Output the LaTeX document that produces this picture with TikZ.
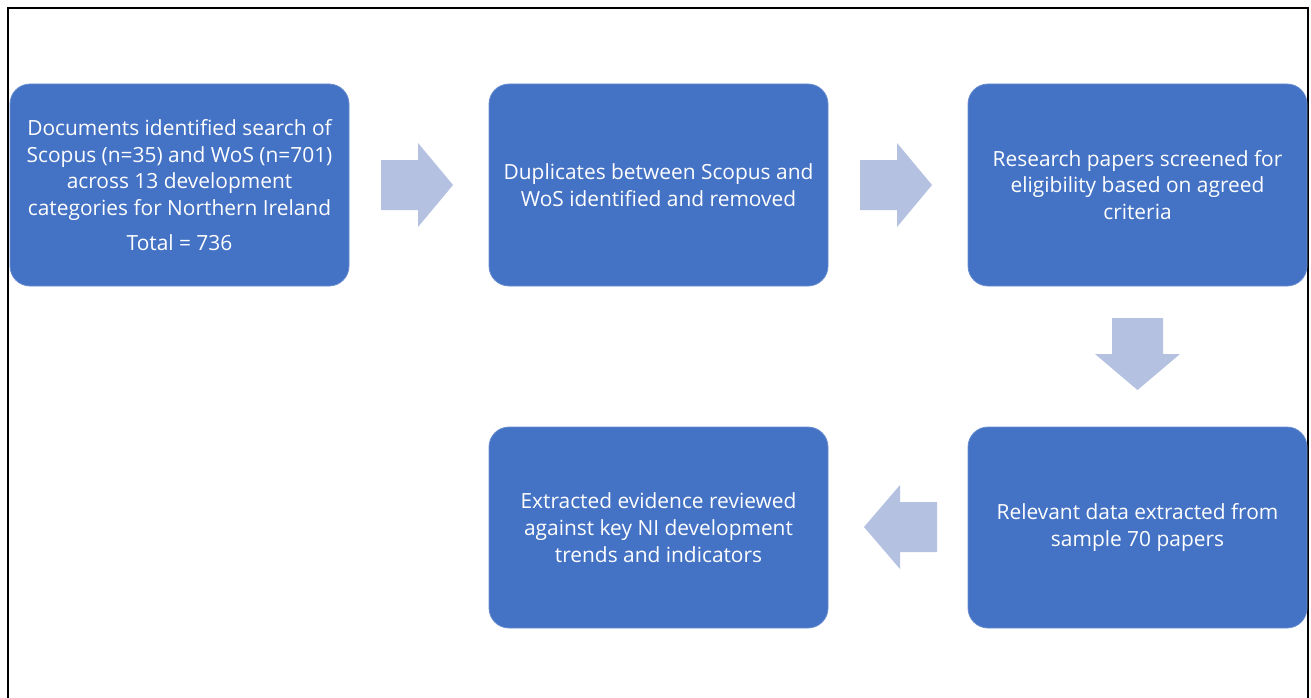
\documentclass[tikz,border=0pt]{standalone}
\usepackage{fontspec}
\setmainfont{Open Sans}
\definecolor{boxblue}{RGB}{68,114,196}
\definecolor{arrblue}{RGB}{180,193,225}
\begin{document}
\begin{tikzpicture}[x=1pt,y=-1pt,
  stepbox/.style={fill=boxblue,draw=boxblue!80!white,line width=0.8pt,rounded corners=20pt,
    minimum width=339pt,minimum height=202pt,inner sep=0pt,align=center,text=white,
    font=\fontsize{20.9pt}{26.7pt}\selectfont},
  blockarrow/.style={fill=arrblue}]
\useasboundingbox (0,0) rectangle (1311,698);
\fill[white] (0,0) rectangle (1311,698);
\draw[line width=2pt] (7.5,698) -- (7.5,8) -- (1308,8) -- (1308,698);
\node[stepbox] (b1) at (179.5,185) {Documents identified search of\\Scopus (n=35) and WoS (n=701)\\across 13 development\\categories for Northern Ireland\\[8pt]Total = 736};
\node[stepbox] (b2) at (658.5,185) {Duplicates between Scopus and\\WoS identified and removed};
\node[stepbox] (b3) at (1137.5,185) {Research papers screened for\\eligibility based on agreed\\criteria};
\node[stepbox,minimum height=201pt] (b4) at (1137.5,527.5) {Relevant data extracted from\\sample 70 papers};
\node[stepbox,minimum height=201pt] (b5) at (658.5,527.5) {Extracted evidence reviewed\\against key NI development\\trends and indicators};
% block arrows
\fill[blockarrow] (381,160) -- (418,160) -- (418,143) -- (453,185) -- (418,227) -- (418,210) -- (381,210) -- cycle;
\fill[blockarrow] (860,160) -- (897,160) -- (897,143) -- (932,185) -- (897,227) -- (897,210) -- (860,210) -- cycle;
\fill[blockarrow] (1112,318) -- (1163,318) -- (1163,354) -- (1180,354) -- (1137.5,390) -- (1095,354) -- (1112,354) -- cycle;
\fill[blockarrow] (937,502) -- (900,502) -- (900,485) -- (864,527) -- (900,569) -- (900,552) -- (937,552) -- cycle;
\end{tikzpicture}
\end{document}
